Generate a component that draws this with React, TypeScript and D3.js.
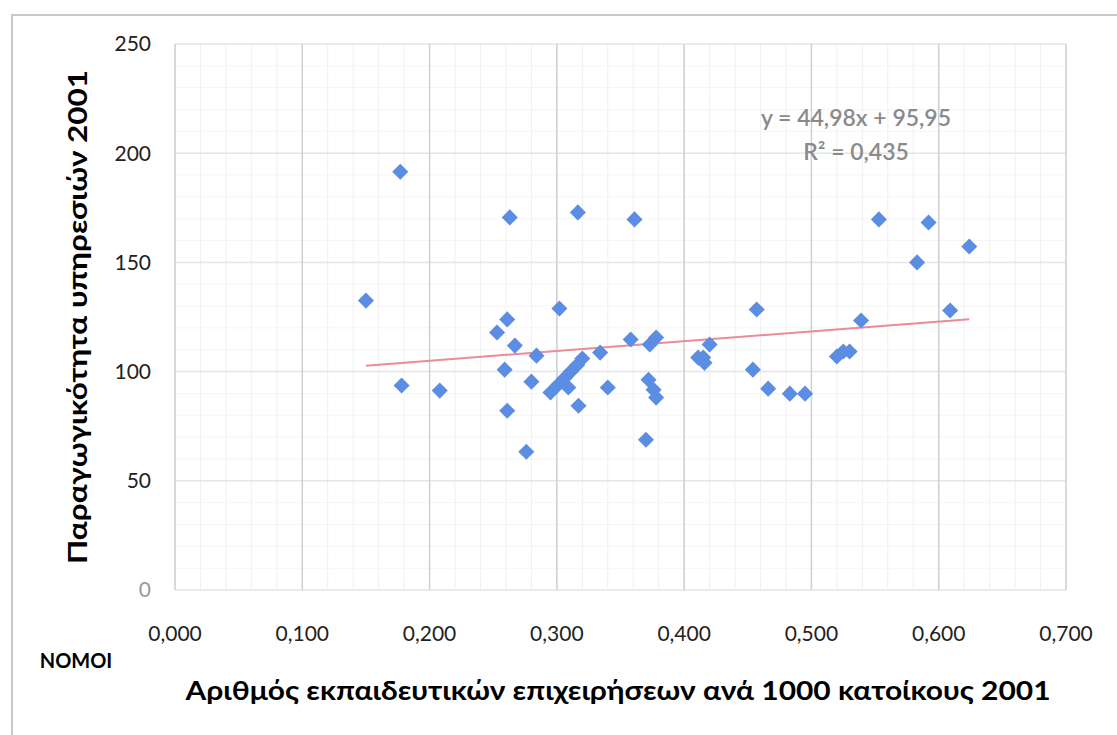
import React from "react";
import * as d3 from "d3";

const xValues = [
  0.150, 0.177, 0.178, 0.208, 0.253, 0.261, 0.263, 0.259, 0.261, 0.267,
  0.276, 0.280, 0.284, 0.302, 0.295, 0.301, 0.306, 0.311, 0.316, 0.320,
  0.309, 0.317, 0.3165, 0.334, 0.340, 0.361, 0.358, 0.373, 0.378, 0.372,
  0.376, 0.378, 0.370, 0.411, 0.415, 0.416, 0.420, 0.454, 0.457, 0.466,
  0.483, 0.495, 0.520, 0.525, 0.530, 0.539, 0.553, 0.583, 0.592, 0.609,
  0.624,
];
const yValues = [
  132.5, 191.5, 93.6, 91.3, 117.9, 123.9, 170.6, 100.9, 82.1, 111.9,
  63.3, 95.4, 107.3, 128.9, 90.4, 94.0, 97.0, 100.0, 103.0, 106.0,
  92.7, 84.4, 172.9, 108.7, 92.7, 169.7, 114.7, 112.4, 115.6, 96.3,
  91.7, 88.1, 68.8, 106.4, 106.4, 104.0, 112.4, 100.9, 128.4, 92.2,
  89.9, 89.9, 106.9, 109.2, 109.2, 123.4, 169.7, 150.0, 168.3, 128.0,
  157.3,
];
const trendSlope = 44.98;
const trendIntercept = 95.95;
const equationLines = ["y = 44,98x + 95,95", "R² = 0,435"];
const xTicks = [0, 0.1, 0.2, 0.3, 0.4, 0.5, 0.6, 0.7];
const yTicks = [0, 50, 100, 150, 200, 250];
const xTitle = "Αριθμός  εκπαιδευτικών επιχειρήσεων ανά 1000 κατοίκους 2001";
const yTitle = "Παραγωγικότητα υπηρεσιών 2001";
const cornerLabel = "ΝΟΜΟΙ";

const W = 1117;
const H = 735;
const left = 175;
const right = 1066;
const top = 44;
const bottom = 590;

export default function App() {
  const x = d3.scaleLinear().domain([0, 0.7]).range([left, right]);
  const y = d3.scaleLinear().domain([0, 250]).range([bottom, top]);
  const minorX = d3.range(0, 0.7001, 0.02);
  const minorY = d3.range(0, 250.001, 10);
  const xMin = d3.min(xValues) as number;
  const xMax = d3.max(xValues) as number;
  const line = d3
    .line<number>()
    .x((d) => x(d))
    .y((d) => y(trendSlope * d + trendIntercept));
  const fmt = (v: number) => v.toFixed(3).replace(".", ",");
  const diamond = d3.symbol().type(d3.symbolDiamond2).size(165)() as string;
  const font = "Lato, 'Open Sans', sans-serif";

  return (
    <svg
      width={W}
      height={H}
      style={{ position: "absolute", left: 0, top: 0, background: "#fff" }}
    >
      <rect x={0} y={0} width={W} height={H} fill="#fff" />
      <rect x={12} y={15} width={W + 20} height={H + 20} fill="none" stroke="#c8c8c8" strokeWidth={2} />
      {minorX.map((v, i) => (
        <line key={"mx" + i} x1={x(v)} x2={x(v)} y1={top} y2={bottom} stroke="#f0f0f0" strokeWidth={1} />
      ))}
      {minorY.map((v, i) => (
        <line key={"my" + i} x1={left} x2={right} y1={y(v)} y2={y(v)} stroke="#f5f5f5" strokeWidth={1} />
      ))}
      {yTicks.map((v) => (
        <line key={"gy" + v} x1={left} x2={right} y1={y(v)} y2={y(v)} stroke="#e6e6e6" strokeWidth={1.5} />
      ))}
      {xTicks.map((v) => (
        <line key={"gx" + v} x1={x(v)} x2={x(v)} y1={top} y2={bottom} stroke="#cfcfd4" strokeWidth={1.5} />
      ))}
      {yTicks.map((v) => (
        <text
          key={"ty" + v}
          x={left - 24}
          y={y(v)}
          dy="0.35em"
          textAnchor="end"
          fontFamily={font}
          fontSize={21}
          fill={v === 0 ? "#999" : "#222"}
        >
          {v}
        </text>
      ))}
      {xTicks.map((v) => (
        <text
          key={"tx" + v}
          x={x(v)}
          y={634}
          dy="0.35em"
          textAnchor="middle"
          fontFamily={font}
          fontSize={21}
          fill="#222"
        >
          {fmt(v)}
        </text>
      ))}
      <path d={line([xMin, xMax]) as string} fill="none" stroke="#ec8a98" strokeWidth={2} />
      {xValues.map((v, i) => (
        <path
          key={"p" + i}
          d={diamond}
          transform={`translate(${x(v)},${y(yValues[i])})`}
          fill="#5b8ee2"
        />
      ))}
      {equationLines.map((t, i) => (
        <text
          key={"eq" + i}
          x={856}
          y={118 + i * 34}
          dy="0.35em"
          textAnchor="middle"
          fontFamily={font}
          fontWeight={600}
          fontSize={23}
          fill="#8a8a8a"
        >
          {t}
        </text>
      ))}
      <text
        x={618}
        y={691}
        dy="0.35em"
        textAnchor="middle"
        fontFamily={font}
        fontWeight="bold"
        fontSize={26}
        textLength={865}
        lengthAdjust="spacingAndGlyphs"
        fill="#000"
      >
        {xTitle}
      </text>
      <text
        transform={`translate(78,317) rotate(-90)`}
        dy="0.35em"
        textAnchor="middle"
        fontFamily={font}
        fontWeight="bold"
        fontSize={26}
        textLength={494}
        lengthAdjust="spacingAndGlyphs"
        fill="#000"
      >
        {yTitle}
      </text>
      <text
        x={76}
        y={661}
        dy="0.35em"
        textAnchor="middle"
        fontFamily={font}
        fontWeight="bold"
        fontSize={20}
        fill="#000"
      >
        {cornerLabel}
      </text>
    </svg>
  );
}
